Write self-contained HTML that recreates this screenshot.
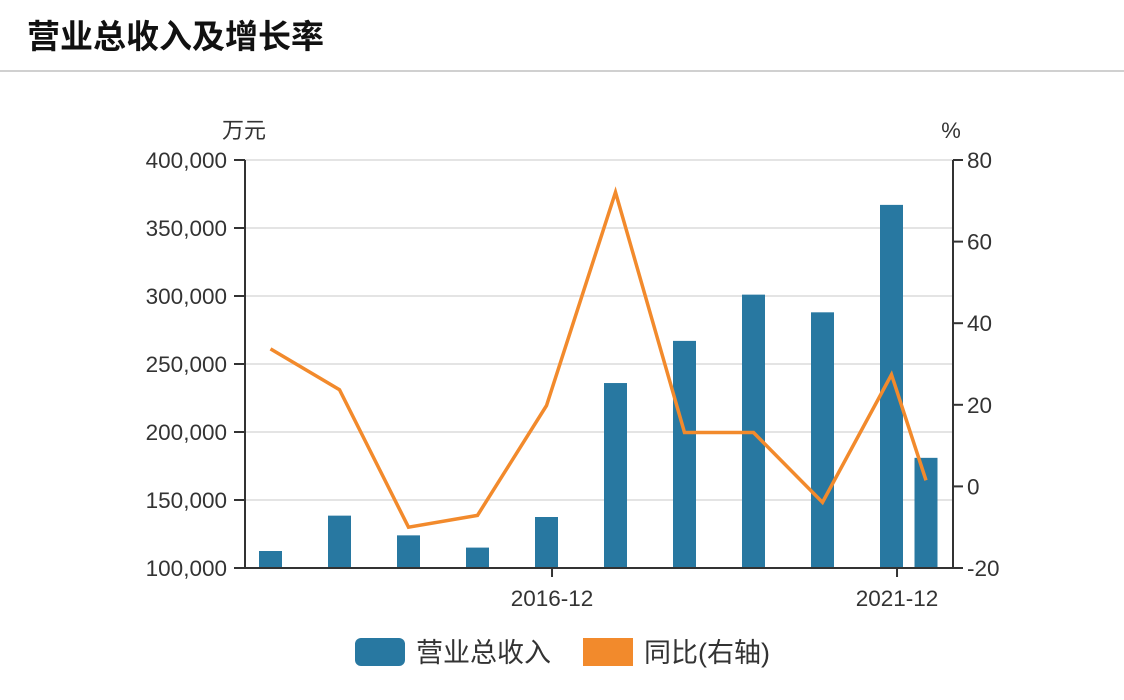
<!DOCTYPE html>
<html><head><meta charset="utf-8"><style>
body{margin:0;background:#fff;font-family:"Liberation Sans","Noto Sans CJK SC",sans-serif;}
#wrap{position:relative;width:1124px;height:700px;overflow:hidden;background:#fff;}
#hdr{position:absolute;left:0;top:0;width:1124px;height:70px;border-bottom:2px solid #d0d0d0;}
#hdr span{position:absolute;left:27px;top:17px;font-size:33px;line-height:40px;font-weight:bold;color:#111;}
svg{position:absolute;left:0;top:0}
</style></head><body>
<div id="wrap">
<div id="hdr"><span>营业总收入及增长率</span></div>
<svg id="c" width="1124" height="700"></svg>
</div>
<script>
const positions=[0,1,2,3,4,5,6,7,8,9,9.5];
const revenue=[112500,138500,124000,115000,137500,236000,267000,301000,288000,367000,181000];
const growth=[33.7,23.7,-10,-7.1,19.8,72.1,13.2,13.2,-3.9,27.4,1.5];
const leftTicks=[100000,150000,200000,250000,300000,350000,400000];
const rightTicks=[-20,0,20,40,60,80];
const xLabels=["2016-12","2021-12"];
const xLabelPos=[4.08,9.08];
const NS="http://www.w3.org/2000/svg";
const svg=document.getElementById('c');
const L=245,R=953,T=160,B=568;
const xs=p=>270.5+69*p;
const yl=v=>B-(v-100000)/300000*(B-T);
const yr=v=>B-(v+20)/100*(B-T);
function mk(t,a,txt){const e=document.createElementNS(NS,t);for(const k in a)e.setAttribute(k,a[k]);if(txt!==undefined)e.textContent=txt;svg.appendChild(e);return e;}
leftTicks.forEach(v=>{const y=yl(v);
 if(v>100000){const g=mk('line',{x1:L,x2:R,y1:y,y2:y,stroke:'#dcdcdc','stroke-width':1.5});
 
 }
 const t=mk('line',{x1:L-11,x2:L,y1:y,y2:y,stroke:'#333','stroke-width':2});
 
 
 const l=mk('text',{x:L-18,y:y+8,'text-anchor':'end','font-size':22.5,fill:'#333'},v.toLocaleString('en-US'));
 
 });
rightTicks.forEach(v=>{const y=yr(v);
 const t=mk('line',{x1:R,x2:R+10,y1:y,y2:y,stroke:'#333','stroke-width':2});
 
 
 const l=mk('text',{x:R+14,y:y+8,'font-size':22.5,fill:'#333'},String(v));
 
 });
revenue.forEach((v,i)=>{const x=xs(positions[i]);
 const b=mk('rect',{x:x-11.5,y:yl(v),width:23,height:B-yl(v),fill:'#2878a1'});
 
 });
const ax=mk('path',{d:`M${L},${T}V${B}H${R}V${T}`,stroke:'#333','stroke-width':2,fill:'none'});


xLabels.forEach((s,i)=>{const x=xs(xLabelPos[i]);
 const t=mk('line',{x1:x,x2:x,y1:B,y2:B+9,stroke:'#333','stroke-width':2});
 
 
 const l=mk('text',{x:x,y:B+38,'text-anchor':'middle','font-size':22.5,fill:'#333'},s);
 
 });
const pts=growth.map((v,i)=>xs(positions[i])+','+yr(v)).join(' ');
const pl=mk('polyline',{points:pts,fill:'none',stroke:'#f28a2c','stroke-width':3.5,'stroke-linejoin':'miter'});


const u1=mk('text',{x:244,y:138,'text-anchor':'middle','font-size':22,fill:'#333'},'万元');


const u2=mk('text',{x:951,y:138,'text-anchor':'middle','font-size':22,fill:'#333'},'%');


const g1=mk('rect',{x:355,y:638,width:50,height:28,rx:6,fill:'#2878a1'});


const g1t=mk('text',{x:416,y:662,'font-size':27,fill:'#333'},'营业总收入');


const g2=mk('rect',{x:583,y:638,width:50,height:28,fill:'#f28a2c'});


const g2t=mk('text',{x:644,y:662,'font-size':27,fill:'#333'},'同比(右轴)');


</script>
</body></html>
